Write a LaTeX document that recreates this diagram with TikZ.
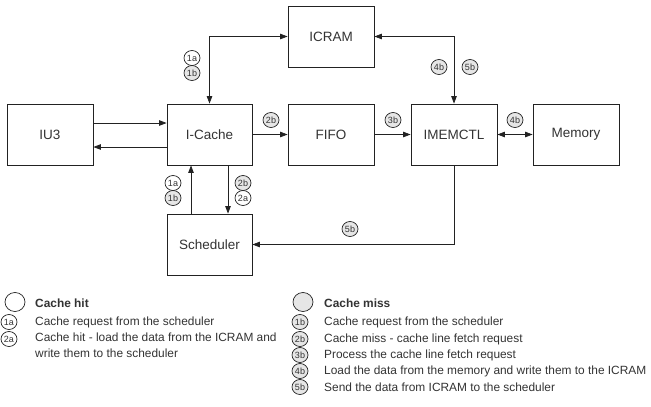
\documentclass[tikz,border=0pt]{standalone}
\usepackage{fontspec}
\setmainfont{Liberation Sans}
\usetikzlibrary{arrows.meta,shapes.geometric}
\definecolor{ink}{HTML}{222222}
\definecolor{txt}{HTML}{333333}
\definecolor{tag}{HTML}{E6E6E6}
\tikzset{
  blk/.style={draw=ink, line width=0.8pt, minimum width=86pt, minimum height=61pt, inner sep=0pt, font=\fontsize{13.5}{15}\selectfont, text=txt},
  conn/.style={draw=ink, line width=0.8pt, -{Triangle[length=7.5pt,width=5.5pt]}},
  bconn/.style={draw=ink, line width=0.8pt, {Triangle[length=7.5pt,width=5.5pt]}-{Triangle[length=7.5pt,width=5.5pt]}},
  tagw/.style={ellipse, draw=ink, line width=0.7pt, fill=white, minimum width=16pt, minimum height=15pt, inner sep=0pt, font=\fontsize{9}{9}\selectfont, text=txt},
  tagg/.style={tagw, fill=tag},
  bigw/.style={ellipse, draw=ink, line width=0.7pt, fill=white, minimum width=20pt, minimum height=19pt, inner sep=0pt},
  bigg/.style={bigw, fill=tag},
  leg/.style={anchor=west, inner sep=0pt, font=\fontsize{11.9}{15.5}\selectfont, text=txt, align=left},
}
\begin{document}
\begin{tikzpicture}[x=1pt,y=1pt]
\useasboundingbox (0,0) rectangle (651,-407);
% blocks
\node[blk] (iu3) at (50,-134.5) {IU3};
\node[blk, minimum width=85pt] (ic) at (209.5,-134.5) {I-Cache};
\node[blk] (icram) at (331,-36.5) {ICRAM};
\node[blk] (fifo) at (331,-134.5) {FIFO};
\node[blk] (imem) at (454,-134.5) {IMEMCTL};
\node[blk] (mem) at (576,-134.5) {Memory};
\node[blk, minimum width=85pt] (sch) at (209.5,-244.5) {Scheduler};
% connectors
\draw[conn] ([yshift=11.5pt]iu3.east) -- ([yshift=11.5pt]ic.west);
\draw[conn] ([yshift=-12.5pt]ic.west) -- ([yshift=-12.5pt]iu3.east);
\draw[bconn] (ic.north) |- (icram.west);
\draw[bconn] (imem.north) |- (icram.east);
\draw[conn] (ic.east) -- (fifo.west);
\draw[conn] (fifo.east) -- (imem.west);
\draw[bconn] (imem.east) -- (mem.west);
\draw[conn] ([xshift=-18.5pt]sch.north) -- ([xshift=-18.5pt]ic.south);
\draw[conn] ([xshift=18.5pt]ic.south) -- ([xshift=18.5pt]sch.north);
\draw[conn] (imem.south) |- (sch.east);
% tags on diagram
\node[tagw] (t1) at (192,-58) {1a};
\node[tagg] (t2) at (192,-73) {1b};
\node[tagg] (t3) at (271,-120) {2b};
\node[tagg] (t4) at (393,-120) {3b};
\node[tagg] (t5) at (515,-120) {4b};
\node[tagg] (t6) at (439,-67) {4b};
\node[tagg] (t7) at (470,-67) {5b};
\node[tagw] (t8) at (173,-183) {1a};
\node[tagg] (t9) at (173,-198) {1b};
\node[tagg] (t10) at (243,-183) {2b};
\node[tagw] (t11) at (243,-198) {2a};
\node[tagg] (t12) at (350,-229) {5b};
% legend: cache hit
\node[bigw] (la0) at (15,-302) {};
\node[tagw] (la1) at (9,-322) {1a};
\node[tagw] (la2) at (9,-339) {2a};
\node[leg, font=\fontsize{11.9}{15.5}\selectfont\bfseries] (lat0) at (35,-303) {Cache hit};
\node[leg] (lat1) at (35,-322) {Cache request from the scheduler};
\node[leg, anchor=north west] (lat2) at (35,-333) {Cache hit - load the data from the ICRAM and\\write them to the scheduler};
% legend: cache miss
\node[bigg] (lb0) at (303,-302) {};
\node[tagg] (lb1) at (300,-322) {1b};
\node[tagg] (lb2) at (300,-339) {2b};
\node[tagg] (lb3) at (300,-355) {3b};
\node[tagg] (lb4) at (300,-371) {4b};
\node[tagg] (lb5) at (300,-387) {5b};
\node[leg, font=\fontsize{11.9}{15.5}\selectfont\bfseries] (lbt0) at (324,-303) {Cache miss};
\node[leg] (lbt1) at (324,-322) {Cache request from the scheduler};
\node[leg] (lbt2) at (324,-339) {Cache miss - cache line fetch request};
\node[leg] (lbt3) at (324,-355) {Process the cache line fetch request};
\node[leg] (lbt4) at (324,-371) {Load the data from the memory and write them to the ICRAM};
\node[leg] (lbt5) at (324,-387) {Send the data from ICRAM to the scheduler};
\end{tikzpicture}
\end{document}
